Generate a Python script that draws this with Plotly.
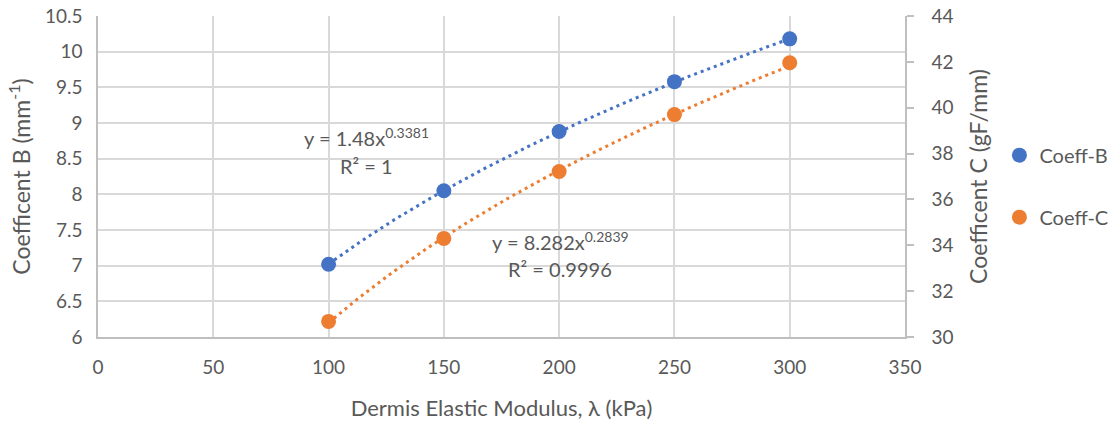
import numpy as np
import plotly.graph_objects as go

# Dermis elastic modulus (kPa) and fitted coefficients
modulus = [100, 150, 200, 250, 300]
coeff_b = [7.02, 8.05, 8.88, 9.58, 10.18]
coeff_c = [30.68, 34.30, 37.22, 39.70, 41.96]

# Power-law trendline parameters: y = a * x^k
fit_b = (1.48, 0.3381)
fit_c = (8.282, 0.2839)
r2_b = "1"
r2_c = "0.9996"

x_ticks = [0, 50, 100, 150, 200, 250, 300, 350]
b_ticks = [6, 6.5, 7, 7.5, 8, 8.5, 9, 9.5, 10, 10.5]
c_ticks = [30, 32, 34, 36, 38, 40, 42, 44]

BLUE = "#4472C4"
ORANGE = "#ED7D31"
TEXT = "#595959"
GRID = "#D9D9D9"
AXIS = "#BFBFBF"
FONT = "Lato, Open Sans, sans-serif"

xs = np.linspace(modulus[0], modulus[-1], 200)
trend_b = fit_b[0] * xs ** fit_b[1]
trend_c = fit_c[0] * xs ** fit_c[1]

fig = go.Figure()
fig.add_trace(go.Scatter(x=xs, y=trend_b, mode="lines", yaxis="y",
                         line=dict(color=BLUE, width=3, dash="3px,4px"),
                         showlegend=False, hoverinfo="skip"))
fig.add_trace(go.Scatter(x=xs, y=trend_c, mode="lines", yaxis="y2",
                         line=dict(color=ORANGE, width=3, dash="3px,4px"),
                         showlegend=False, hoverinfo="skip"))
fig.add_trace(go.Scatter(x=modulus, y=coeff_b, mode="markers", name="Coeff-B",
                         yaxis="y", legendgroup="b",
                         marker=dict(color=BLUE, size=15)))
fig.add_trace(go.Scatter(x=modulus, y=coeff_c, mode="markers", name="Coeff-C",
                         yaxis="y2", legendgroup="c",
                         marker=dict(color=ORANGE, size=15)))

# Plot-area geometry in pixels
L, T, W, H = 98, 16, 807, 321

annot_font = dict(family=FONT, size=20, color=TEXT)
annotations = [
    dict(x=366, y=137, text=f"y = {fit_b[0]:g}x<sup>{fit_b[1]}</sup>"),
    dict(x=366, y=166, text=f"R² = {r2_b}"),
    dict(x=560, y=241, text=f"y = {fit_c[0]}x<sup>{fit_c[1]}</sup>"),
    dict(x=560, y=269, text=f"R² = {r2_c}"),
]
for a in annotations:
    fig.add_annotation(x=(a["x"] - L) / W, y=1 - (a["y"] - T) / H,
                       xref="paper", yref="paper", text=a["text"],
                       showarrow=False, font=annot_font,
                       xanchor="center", yanchor="middle")

fig.update_layout(
    width=1113, height=423,
    margin=dict(l=L, r=1113 - L - W, t=T, b=423 - T - H, autoexpand=False),
    paper_bgcolor="white", plot_bgcolor="white",
    font=dict(family=FONT, size=19, color=TEXT),
    xaxis=dict(range=[0, 350], tickvals=x_ticks, showgrid=True, gridcolor=GRID,
               gridwidth=2, zeroline=False, showline=True, linecolor=AXIS,
               linewidth=1.5, ticks="", ticklabelstandoff=12,
               title=dict(text="Dermis Elastic Modulus, λ (kPa)", standoff=24,
                          font=dict(size=22, color=TEXT))),
    yaxis=dict(range=[6, 10.5], tickvals=b_ticks, showgrid=True, gridcolor=GRID,
               gridwidth=2, zeroline=False, showline=True, linecolor=AXIS,
               linewidth=1.5, ticks="", ticklabelstandoff=10,
               title=dict(text="Coefficent B (mm<sup>-1</sup>)", standoff=8,
                          font=dict(size=23, color=TEXT))),
    yaxis2=dict(range=[30, 44], tickvals=c_ticks, overlaying="y", side="right",
                showgrid=False, zeroline=False, showline=True, linecolor=AXIS,
                linewidth=1.5, ticks="outside", ticklen=7, tickcolor=AXIS,
                tickwidth=1.5, ticklabelstandoff=14,
                title=dict(text="Coefficent C (gF/mm)", standoff=18,
                           font=dict(size=23, color=TEXT))),
    legend=dict(x=1.117, y=0.47, xanchor="left", yanchor="middle",
                traceorder="grouped", tracegroupgap=33,
                font=dict(family=FONT, size=20, color=TEXT),
                bgcolor="rgba(0,0,0,0)"),
)

fig.write_html("out.html")
